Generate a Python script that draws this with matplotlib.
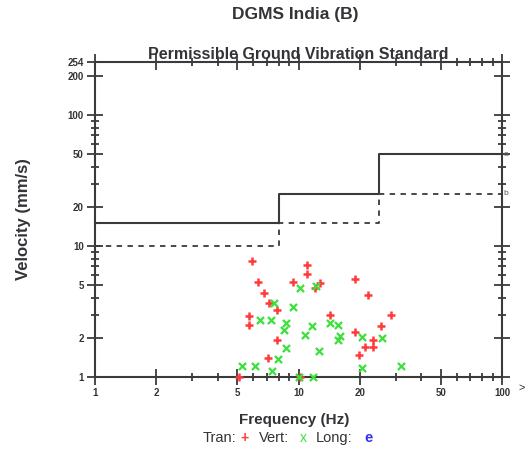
import numpy as np
import matplotlib
matplotlib.use("Agg")
import matplotlib.pyplot as plt
from matplotlib.ticker import FixedLocator, NullFormatter

plt.rcParams["font.family"] = ["Liberation Sans", "DejaVu Sans"]

# Tran (transverse) peak particle velocities
tran_freq = [5.9, 6.3, 6.8, 7.2, 7.8, 5.7, 5.7, 7.8, 7.1, 5.1, 9.4, 11.0, 11.0, 12.0, 12.8,
             14.3, 19.0, 22.0, 28.4, 25.4, 19.0, 23.2, 21.2, 23.3, 19.8, 10.2]
tran_vel = [7.7, 5.3, 4.35, 3.7, 3.25, 2.9, 2.5, 1.9, 1.4, 1.0, 5.3, 7.1, 6.1, 4.8, 5.2,
            2.95, 5.6, 4.2, 2.95, 2.45, 2.2, 1.9, 1.7, 1.7, 1.47, 1.0]

# Vert peak particle velocities
vert_freq = [10.2, 12.2, 7.6, 9.4, 6.5, 7.3, 8.65, 8.5, 11.6, 10.8, 14.3, 15.7, 16.0, 15.7,
             20.6, 25.6, 8.65, 12.6, 7.9, 5.3, 6.1, 7.4, 20.6, 31.9, 10.0, 11.8]
vert_vel = [4.75, 4.95, 3.7, 3.45, 2.7, 2.7, 2.6, 2.3, 2.45, 2.1, 2.6, 2.5, 2.07, 1.92,
            2.03, 2.0, 1.67, 1.59, 1.37, 1.22, 1.22, 1.11, 1.18, 1.22, 1.0, 1.0]

# DGMS standard limits (a: solid, b: dashed)
std_freq = [1, 8, 25, 100]
std_a = [15, 25, 50, 50]
std_b = [10, 15, 25, 25]

x_major = [1, 2, 5, 10, 20, 50, 100]
x_minor = [3, 4, 6, 7, 8, 9, 30, 40, 60, 70, 80, 90]
y_major = [1, 2, 5, 10, 20, 50, 100, 200, 254]
y_minor = [3, 4, 6, 7, 8, 9, 30, 40, 60, 70, 80, 90]

axis_col = "#3a3a3a"
text_col = "#333338"

fig = plt.figure(figsize=(5.32, 4.57), dpi=100)
ax = fig.add_axes([95/532, 1-377/457, 407/532, 315/457])

ax.set_xscale("log")
ax.set_yscale("log")
ax.set_xlim(1, 100)
ax.set_ylim(1, 254)

ax.step(std_freq, std_a, where="post", color=axis_col, lw=1.5, clip_on=False)
ax.step(std_freq, std_b, where="post", color=axis_col, lw=1.3, ls=(0, (3, 3)), clip_on=False)
ax.text(101.5, std_a[-1], "a", fontsize=6, color="#555566", va="center", ha="left")
ax.text(101.5, std_b[-1], "b", fontsize=6, color="#555566", va="center", ha="left")

ax.scatter(tran_freq, tran_vel, marker="+", s=32, color="#ff3b3b", linewidths=1.8,
           clip_on=False, zorder=3)
ax.scatter(vert_freq, vert_vel, marker="x", s=26, color="#3be03b", linewidths=1.6,
           clip_on=False, zorder=3)

for s in ax.spines.values():
    s.set_color(axis_col)
    s.set_linewidth(1.5)

ax.xaxis.set_major_locator(FixedLocator(x_major))
ax.xaxis.set_minor_locator(FixedLocator(x_minor))
ax.yaxis.set_major_locator(FixedLocator(y_major))
ax.yaxis.set_minor_locator(FixedLocator(y_minor))
ax.set_xticklabels([str(v) for v in x_major])
ax.set_yticklabels([str(v) for v in y_major])
ax.xaxis.set_minor_formatter(NullFormatter())
ax.yaxis.set_minor_formatter(NullFormatter())
ax.tick_params(which="major", direction="inout", length=12, width=1.3, color=axis_col,
               top=True, right=True, labelsize=7, labelcolor=text_col, pad=2)
ax.tick_params(which="minor", direction="inout", length=6, width=1.3, color=axis_col,
               top=True, right=True)
for lab in ax.get_xticklabels() + ax.get_yticklabels():
    lab.set_fontweight("bold")

fig.text(295/532, 1-15/457, "DGMS India (B)", ha="center", va="center", fontsize=12.5,
         fontweight="bold", color=text_col)
ax.set_title("Permissible Ground Vibration Standard", fontsize=11.5, fontweight="bold",
             color=text_col, pad=1)
ax.set_xlabel("Frequency (Hz)", fontsize=11, fontweight="bold", color=text_col)
ax.xaxis.set_label_coords((294-95)/407, -(420-377)/315)
ax.xaxis.label.set_va("center")
ax.set_ylabel("Velocity (mm/s)", fontsize=12, fontweight="bold", color=text_col, labelpad=26)
fig.text(0.975, 1-388/457, ">", fontsize=8, color=text_col, va="center")

ly = 1 - 438/457
fig.text(203/532, ly, "Tran:", fontsize=10.5, color=text_col, va="center")
fig.text(240/532, ly, "+", fontsize=10, color="#ff3b3b", va="center", fontweight="bold")
fig.text(259/532, ly, "Vert:", fontsize=10.5, color=text_col, va="center")
fig.text(300/532, ly, "x", fontsize=10, color="#3be03b", va="center")
fig.text(316/532, ly, "Long:", fontsize=10.5, color=text_col, va="center")
fig.text(364/532, ly, "e", fontsize=10.5, color="#3333ee", va="center", fontweight="bold")

fig.savefig("out.png", dpi=100)
